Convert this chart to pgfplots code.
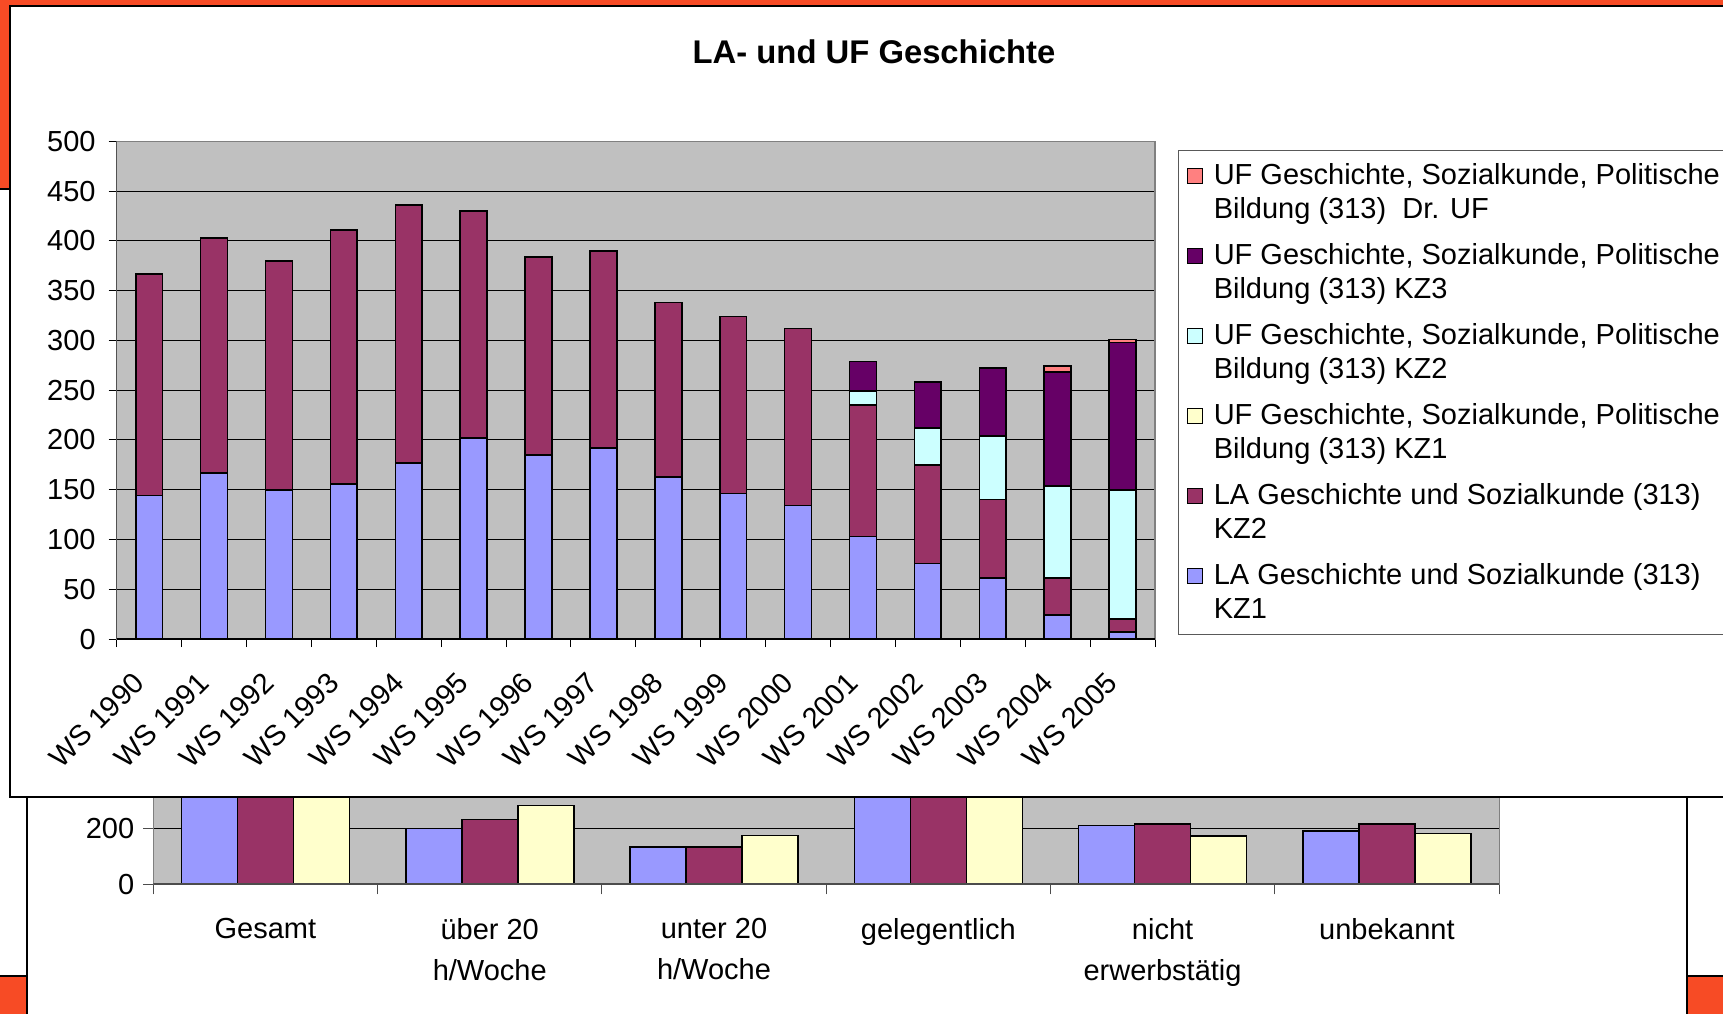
\documentclass[border=0pt]{standalone}
\usepackage{pgfplots}
\usepackage{pgfplotstable}
\pgfplotsset{compat=1.18}
\usepackage{fontspec}
\setmainfont{Liberation Sans}
\definecolor{la1}{HTML}{9999FF}
\definecolor{la2}{HTML}{993366}
\definecolor{uf1}{HTML}{FFFFCC}
\definecolor{uf2}{HTML}{CCFFFF}
\definecolor{uf3}{HTML}{660066}
\definecolor{ufdr}{HTML}{FF8080}
\definecolor{plotgray}{HTML}{C0C0C0}
\definecolor{slideorange}{HTML}{F74B25}
\pgfplotstableread{
x la1 la2 uf1 uf2 uf3 dr
0 144 223 0 0 0 0
1 167 236 0 0 0 0
2 150 230 0 0 0 0
3 156 255 0 0 0 0
4 177 259 0 0 0 0
5 202 228 0 0 0 0
6 185 199 0 0 0 0
7 192 198 0 0 0 0
8 163 175 0 0 0 0
9 146 178 0 0 0 0
10 134 178 0 0 0 0
11 103 132 0 14 30 0
12 76 99 0 37 46 0
13 61 79 0 64 68 0
14 24 37 0 93 114 6
15 7 13 0 130 148 3
}\maintable
\pgfplotstableread{
x a b c
0 740 790 810
1 199 232 282
2 133 133 175
3 400 420 380
4 210 216 173
5 191 216 182
}\lowertable
\newcommand\tfont{\fontsize{14.5}{17}\selectfont}
\begin{document}
\begin{tikzpicture}[x=0.5pt,y=-0.5pt]
\fill[white] (0,0) rectangle (1723,1014);
% slide background
\fill[slideorange] (0,0) rectangle (1723,6);
\fill[slideorange] (0,0) rectangle (10,189);
\draw[black,line width=1pt] (0,189) -- (10,189);
\fill[slideorange] (0,976) rectangle (27,1014);
\fill[slideorange] (1687,976) rectangle (1723,1014);
\draw[black,line width=1pt] (0,976) -- (27,976) (1687,976) -- (1723,976);
\draw[black,line width=0.75pt] (27,780) -- (27,1014) (1687,780) -- (1687,1014);
\coordinate (B) at (153.3,884.3);
\coordinate (A) at (116.7,639);
% lower (background) chart
\begin{axis}[at={(B)}, anchor=south west, scale only axis,
  width=672.85pt, height=112pt,
  ymin=0, ymax=800, xmin=-0.5, xmax=5.5,
  ybar=0pt, bar width=28pt,
  ytick={0,200,400,600,800},
  xtick={-0.5,0.5,...,5.5}, xticklabels={},
  extra x ticks={0,...,5},
  extra x tick labels={Gesamt,{über 20\\h/Woche},{unter 20\\h/Woche},gelegentlich,{nicht\\erwerbstätig},unbekannt},
  extra x tick style={major tick length=0pt, grid=none},
  xticklabel style={align=center, anchor=north, font=\fontsize{14.5}{20.5}\selectfont, yshift=-13.5pt},
  yticklabel style={font=\tfont, xshift=-1pt},
  /pgf/number format/assume math mode=true,
  tick align=outside, xtick pos=left, ytick pos=left,
  tick style={black!70, line width=0.5pt}, major tick length=5pt,
  ymajorgrids, grid style={black, line width=0.5pt},
  axis background/.style={fill=plotgray},
  axis line style={draw=gray},
  every axis plot/.append style={draw=black, line width=0.8pt},
]
\addplot[fill=la1] table[x=x,y=a]{\lowertable};
\addplot[fill=la2] table[x=x,y=b]{\lowertable};
\addplot[fill=uf1] table[x=x,y=c]{\lowertable};
\draw[black!70, line width=1.5pt] (rel axis cs:0,0) -- (rel axis cs:1,0);
\end{axis}
% main chart box
\filldraw[fill=white, draw=black, line width=1pt] (10,5.5) rectangle (1760,797);
\node[font=\bfseries\fontsize{16.4}{19}\selectfont] at (874,52) {LA- und UF Geschichte};
\begin{axis}[at={(A)}, anchor=south west, scale only axis,
  width=519.15pt, height=248.85pt,
  ybar stacked, bar width=13.4pt,
  xmin=-0.5, xmax=15.5, ymin=0, ymax=500,
  ytick={0,50,...,500},
  xtick={-0.5,0.5,...,15.5}, xticklabels={},
  extra x ticks={0,...,15},
  extra x tick labels={WS 1990,WS 1991,WS 1992,WS 1993,WS 1994,WS 1995,WS 1996,WS 1997,WS 1998,WS 1999,WS 2000,WS 2001,WS 2002,WS 2003,WS 2004,WS 2005},
  extra x tick style={major tick length=0pt, grid=none},
  xticklabel style={yshift=-19.3pt, xshift=-5pt, rotate=45, anchor=east, inner sep=0pt, font=\tfont},
  yticklabel style={font=\tfont, xshift=-3pt},
  /pgf/number format/assume math mode=true,
  tick align=outside, xtick pos=left, ytick pos=left,
  tick style={black, line width=0.5pt}, major tick length=4pt,
  ymajorgrids, grid style={black, line width=0.5pt},
  axis background/.style={fill=plotgray},
  axis line style={draw=gray, line width=0.75pt},
  every axis plot/.append style={draw=black, line width=0.8pt},
  legend image code/.code={\draw[#1, line width=0.6pt] (0pt,4.5pt) rectangle (7.5pt,12pt);},
  reverse legend, legend cell align=left,
  legend style={at={(1.0222,0.9825)}, anchor=north west, draw=black!65, line width=0.5pt, fill=white,
    font=\fontsize{14.5}{17}\selectfont, row sep=7pt, column sep=3.5pt, inner xsep=4pt, inner ysep=4.5pt,
    nodes={align=left}},
]
\addplot[fill=la1] table[x=x,y=la1]{\maintable};
\addlegendentry{LA Geschichte und Sozialkunde (313)\\KZ1}
\addplot[fill=la2] table[x=x,y=la2]{\maintable};
\addlegendentry{LA Geschichte und Sozialkunde (313)\\KZ2}
\addplot[fill=uf1] table[x=x,y=uf1]{\maintable};
\addlegendentry{UF Geschichte, Sozialkunde, Politische\\Bildung (313) KZ1}
\addplot[fill=uf2] table[x=x,y=uf2]{\maintable};
\addlegendentry{UF Geschichte, Sozialkunde, Politische\\Bildung (313) KZ2}
\addplot[fill=uf3] table[x=x,y=uf3]{\maintable};
\addlegendentry{UF Geschichte, Sozialkunde, Politische\\Bildung (313) KZ3}
\addplot[fill=ufdr] table[x=x,y=dr]{\maintable};
\addlegendentry{UF Geschichte, Sozialkunde, Politische\\Bildung (313)~~Dr. UF}
\draw[black, line width=1pt] (rel axis cs:0,0) -- (rel axis cs:1,0);
\draw[black, line width=0.6pt] (rel axis cs:0,0) -- (rel axis cs:0,1);
\end{axis}
\pgfresetboundingbox
\useasboundingbox (0,0) rectangle (1723,1014);
\end{tikzpicture}
\end{document}
